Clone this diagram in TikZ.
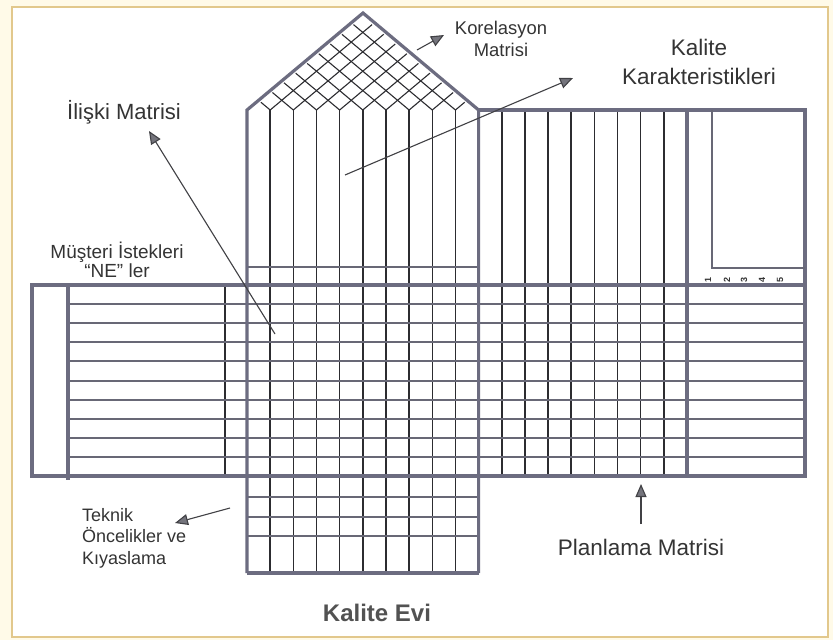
\documentclass[tikz,border=0pt]{standalone}
\usepackage{xcolor}
\usepackage{fontspec}
\setmainfont{Liberation Sans}
\usetikzlibrary{arrows.meta}
\definecolor{bgcream}{RGB}{255,250,232}
\definecolor{framecol}{RGB}{226,200,140}
\definecolor{thickcol}{RGB}{108,108,128}
\definecolor{vcol}{RGB}{44,44,48}
\definecolor{hcol}{RGB}{104,104,118}
\definecolor{txtcol}{RGB}{52,52,52}
\definecolor{headcol}{RGB}{116,116,124}

\begin{document}
\begin{tikzpicture}[x=1pt, y=-1pt,
    thickline/.style={draw=thickcol, line width=3.2pt},
    vline/.style={draw=vcol, line width=1.5pt},
    hline/.style={draw=hcol, line width=2pt},
    roofgrid/.style={draw=vcol, line width=1.1pt, shorten >=3pt},
    label/.style={text=txtcol, inner sep=0pt},
    pointer/.style={draw=vcol!90, line width=1.1pt, -{Triangle[length=13pt, width=11pt, fill=headcol]}}]
        \useasboundingbox (0,0) rectangle (833,640);
        \fill[bgcream] (0,0) rectangle (833,640);
        \draw[framecol, line width=1.2pt, fill=white] (12,7) rectangle (828,637);
        \def\cw{23.16}

        % Roof
        \foreach \k in {1,...,9}{
            \pgfmathsetmacro\xb{247+\k*\cw}
            \pgfmathsetmacro\yr{110-(478.6-\xb)/231.6*97}
            \pgfmathsetmacro\yl{110-(\xb-247)/231.6*97}
            \draw[roofgrid] (\xb,110) -- ({(\xb+478.6)/2},\yr);
            \draw[roofgrid] (\xb,110) -- ({(\xb+247)/2},\yl);
        }

        % Columns
        \foreach \k in {1,...,9}
            \draw[vline] ({247+\k*\cw},110) -- ({247+\k*\cw},573);
        \foreach \k in {11,...,18}
            \draw[vline] ({247+\k*\cw},110) -- ({247+\k*\cw},476);
        \draw[vline] (225,285) -- (225,476);
        \draw[hline] (247,267) -- (478.6,267);

        % Rows
        \foreach \j in {1,...,9}
            \draw[hline] (68,{285+\j*19.1}) -- (805,{285+\j*19.1});
        \foreach \y in {497,517,536}
            \draw[hline] (247,\y) -- (478.6,\y);

        % Frame lines
        \draw[thickline] (247,573) -- (247,110) -- (363,13) -- (478.6,110) -- (478.6,573);
        \draw[thickline] (247,573) -- (478.6,573);
        \draw[thickline] (478.6,110) -- (805,110) -- (805,476);
        \draw[thickline] (687,110) -- (687,476);
        \draw[thickline] (32,285) rectangle (805,476);
        \draw[thickline] (68,285) -- (68,480);
        \draw[hline] (712,110) -- (712,268) -- (805,268);

        % Scale
        \foreach \n/\x in {1/708,2/727,3/744,4/762,5/780}
            \node[label, rotate=90, font=\bfseries\fontsize{9}{10}\selectfont] (n\n) at (\x,280) {\n};

        % Labels
        \node[label, font=\fontsize{22}{26}\selectfont] (iliski) at (124,112) {İlişki Matrisi};
        \node[label, align=center, font=\fontsize{18.4}{22}\selectfont] (korelasyon) at (501,39) {Korelasyon\\Matrisi};
        \node[label, align=center, font=\fontsize{22.5}{29}\selectfont] (karakter) at (699,62) {Kalite\\Karakteristikleri};
        \node[label, align=center, font=\fontsize{19}{19.5}\selectfont] (musteri) at (117,260) {Müşteri İstekleri\\“NE” ler};
        \node[label, align=left, anchor=west, font=\fontsize{18}{21.5}\selectfont] (teknik) at (82,538) {Teknik\\Öncelikler ve\\Kıyaslama};
        \node[label, font=\fontsize{22.5}{26}\selectfont] (planlama) at (641,547) {Planlama Matrisi};
        \node[label, text=txtcol!85, font=\bfseries\fontsize{24}{28}\selectfont] (evi) at (377,613) {Kalite Evi};

        % Pointers
        \coordinate (iliskiA) at (275,334);   \coordinate (iliskiB) at (149,131);
        \coordinate (korelA) at (417,50);     \coordinate (korelB) at (444,35);
        \coordinate (karakA) at (345,175);    \coordinate (karakB) at (573,78);
        \coordinate (teknikA) at (230,508);   \coordinate (teknikB) at (175,523);
        \coordinate (planA) at (641,524);     \coordinate (planB) at (641,484);
        \draw[pointer] (iliskiA) -- (iliskiB);
        \draw[pointer] (korelA) -- (korelB);
        \draw[pointer] (karakA) -- (karakB);
        \draw[pointer] (teknikA) -- (teknikB);
        \draw[pointer] (planA) -- (planB);
    \end{tikzpicture}
\end{document}
